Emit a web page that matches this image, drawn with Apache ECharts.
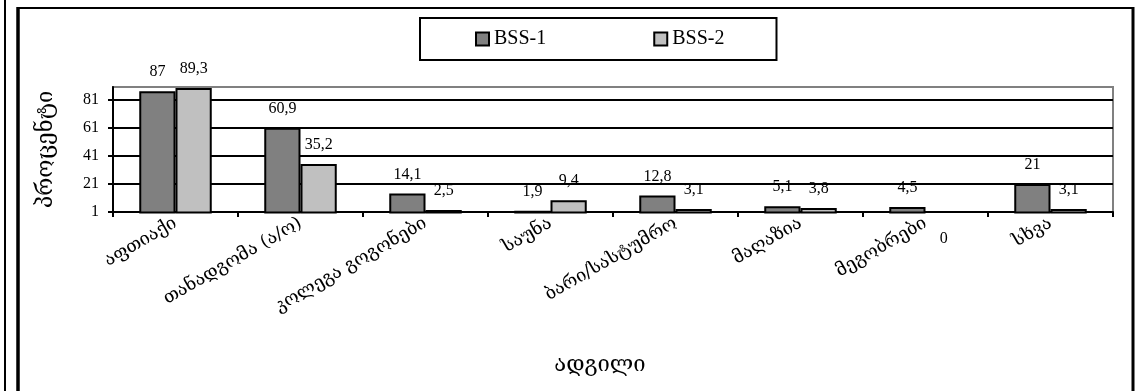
<!DOCTYPE html>
<html>
<head>
<meta charset="utf-8">
<script src="https://cdn.jsdelivr.net/npm/echarts@6/dist/echarts.min.js"></script>
<style>
html,body{margin:0;padding:0;background:#fff;}
#c{width:1139px;height:391px;}
</style>
</head>
<body>
<div id="c"></div>
<script>
const categories = ['აფთიაქი', 'თანადგომა (ა/ო)', 'კოლეგა გოგონები', 'საუნა', 'ბარი/სასტუმრო', 'მაღაზია', 'მეგობრები', 'სხვა'];
const seriesNames = ['BSS-1', 'BSS-2'];
const bss1 = [87, 60.9, 14.1, 1.9, 12.8, 5.1, 4.5, 21];
const bss2 = [89.3, 35.2, 2.5, 9.4, 3.1, 3.8, 0, 3.1];
const yTicks = [1, 21, 41, 61, 81];
const yAxisTitle = 'პროცენტი';
const xAxisTitle = 'ადგილი';

const serif = '"Liberation Serif", "DejaVu Serif", serif';
const geo = '"DejaVu Serif", "DejaVu Sans", serif';
const fmt = p => String(p.value).replace('.', ',');

function buildData(arr) {
  return arr.map(v => v === 0
    ? { value: v, itemStyle: { color: 'transparent', borderWidth: 0 }, label: { position: 'bottom', distance: 17 } }
    : v);
}

const chart = echarts.init(document.getElementById('c'));
chart.setOption({
  animation: false,
  backgroundColor: '#fff',
  grid: {
    left: 113, right: 26, top: 87, bottom: 179,
    show: true, borderColor: '#808080', borderWidth: 2
  },
  legend: {
    data: seriesNames,
    left: 420, top: 18,
    padding: [11, 52, 11, 55],
    itemGap: 107,
    itemWidth: 13, itemHeight: 13,
    icon: 'rect',
    borderColor: '#000', borderWidth: 2,
    textStyle: { fontFamily: serif, fontSize: 20, color: '#000' }
  },
  xAxis: {
    type: 'category',
    data: categories,
    name: xAxisTitle,
    nameLocation: 'middle',
    nameGap: 142,
    nameTextStyle: { fontFamily: geo, fontSize: 22, color: '#000', padding: [0, 26, 0, 0] },
    axisLine: { lineStyle: { color: '#000', width: 2 } },
    axisTick: { show: true, length: 5, lineStyle: { color: '#000', width: 2 } },
    axisLabel: { rotate: 30, margin: 10, fontFamily: geo, fontSize: 18, color: '#000' }
  },
  yAxis: {
    type: 'value',
    min: 1, max: 90, interval: 20,
    name: yAxisTitle,
    nameLocation: 'middle',
    nameGap: 56,
    nameRotate: 90,
    nameTextStyle: { fontFamily: geo, fontSize: 22, color: '#000' },
    axisLine: { show: true, lineStyle: { color: '#000', width: 2 } },
    axisTick: { show: true, length: 5, lineStyle: { color: '#000', width: 2 } },
    axisLabel: {
      margin: 14, fontFamily: serif, fontSize: 16, color: '#000', showMaxLabel: false,
      formatter: v => (yTicks.indexOf(v) >= 0 ? String(v) : '')
    },
    splitLine: { show: true, lineStyle: { color: ['#000', '#000', '#000', '#000', '#000', '#808080'], width: 2 } }
  },
  series: [
    {
      name: seriesNames[0], type: 'bar', data: buildData(bss1),
      barGap: '0%', barCategoryGap: '42%', clip: false,
      itemStyle: { color: '#808080', borderColor: '#000', borderWidth: 2 },
      label: { show: true, position: 'top', distance: 11, fontFamily: serif, fontSize: 16, color: '#000', formatter: fmt }
    },
    {
      name: seriesNames[1], type: 'bar', data: buildData(bss2),
      barGap: '0%', barCategoryGap: '42%', clip: false,
      itemStyle: { color: '#c0c0c0', borderColor: '#000', borderWidth: 2 },
      label: { show: true, position: 'top', distance: 11, fontFamily: serif, fontSize: 16, color: '#000', formatter: fmt }
    }
  ],
  graphic: [
    { type: 'line', shape: { x1: 5, y1: 0, x2: 5, y2: 391 }, style: { stroke: '#000', lineWidth: 2 } },
    { type: 'line', shape: { x1: 18, y1: 7, x2: 18, y2: 391 }, style: { stroke: '#000', lineWidth: 3.5 } },
    { type: 'line', shape: { x1: 17, y1: 8, x2: 1134, y2: 8 }, style: { stroke: '#000', lineWidth: 2 } },
    { type: 'line', shape: { x1: 1133, y1: 7, x2: 1133, y2: 391 }, style: { stroke: '#000', lineWidth: 3 } }
  ]
});
</script>
</body>
</html>
